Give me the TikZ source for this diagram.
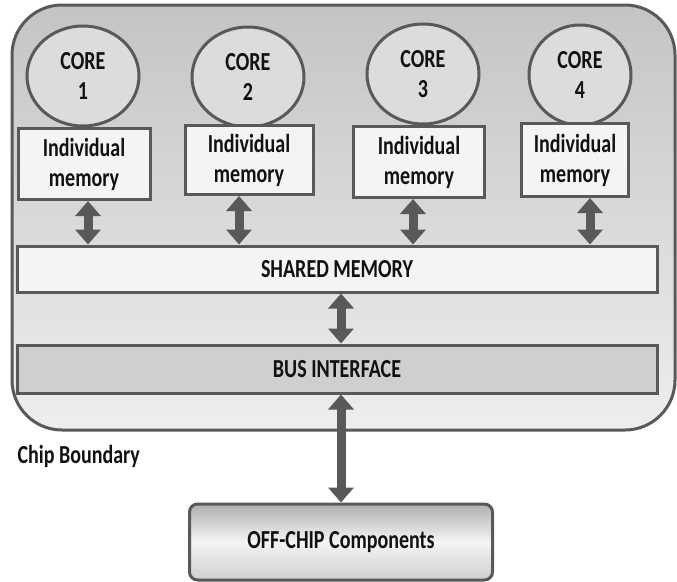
\documentclass[tikz,border=0pt]{standalone}
\usepackage{fontspec}
\setmainfont{Carlito}[FakeStretch=0.77]
\usetikzlibrary{shapes.geometric,arrows.meta,positioning}
\definecolor{edge}{HTML}{595959}
\definecolor{chiptop}{HTML}{C4C4C4}
\definecolor{chipbot}{HTML}{EEEEEE}
\definecolor{corefill}{HTML}{DCDCDC}
\definecolor{memfill}{HTML}{F4F4F4}
\definecolor{busfill}{HTML}{CFCFCF}
\definecolor{txt}{HTML}{111111}
\tikzstyle{core}=[ellipse, draw=edge, line width=3, fill=corefill, minimum width=112, minimum height=100, inner sep=0, align=center, text=txt]
\tikzstyle{mem}=[rectangle, draw=edge, line width=3, fill=memfill, minimum height=71, inner sep=0, align=center, text=txt]
\tikzstyle{bar}=[rectangle, draw=edge, line width=3, minimum width=640, inner sep=0, text=txt]
\tikzstyle{dbl}=[line width=9, draw=edge, {Triangle[width=25,length=15]}-{Triangle[width=25,length=15]}]

\begin{document}
\begin{tikzpicture}[x=1pt, y=-1pt, font=\fontsize{26}{30}\selectfont\bfseries]
    \useasboundingbox (0,0) rectangle (677,581);
    % chip outline
    \draw[edge, line width=3, rounded corners=50, top color=chiptop, bottom color=chipbot] (12,5) rectangle (675,430);
    \node[anchor=west, text=txt] at (14,456) (chiplbl) {Chip Boundary};

    \node[core] at (83,76) (c1) {CORE\\1};
    \node[core] at (248,77) (c2) {CORE\\2};
    \node[core] at (423,74) (c3) {CORE\\3};
    \node[core, minimum width=102] at (580,75) (c4) {CORE\\4};

    \node[mem, minimum width=132] at (84,164) (m1) {Individual\\memory};
    \node[mem, minimum width=128, minimum height=69] at (249,160) (m2) {Individual\\memory};
    \node[mem, minimum width=131] at (419,162) (m3) {Individual\\memory};
    \node[mem, minimum width=107, minimum height=73] at (575,160) (m4) {Individual\\memory};

    \node[bar, fill=memfill, minimum height=46] at (337,269) (shared) {SHARED MEMORY};
    \node[bar, fill=busfill, minimum height=48] at (337,369) (bus) {BUS INTERFACE};

    \node[rectangle, draw=edge, line width=3, rounded corners=8, minimum width=303, minimum height=76,
          top color=busfill!85!black, bottom color=busfill, middle color=memfill, text=txt] at (341,542) (off) {OFF-CHIP Components};

    \draw[dbl] ([xshift=4]m1.south) -- ([xshift=4]m1.south |- shared.north);
    \draw[dbl] ([xshift=-10]m2.south) -- ([xshift=-10]m2.south |- shared.north);
    \draw[dbl] ([xshift=-6]m3.south) -- ([xshift=-6]m3.south |- shared.north);
    \draw[dbl] ([xshift=15]m4.south) -- ([xshift=15]m4.south |- shared.north);
    \draw[dbl] ([xshift=4]shared.south) -- ([xshift=4]bus.north);
    \draw[dbl] (off.north |- bus.south) -- (off.north);
\end{tikzpicture}
\end{document}
